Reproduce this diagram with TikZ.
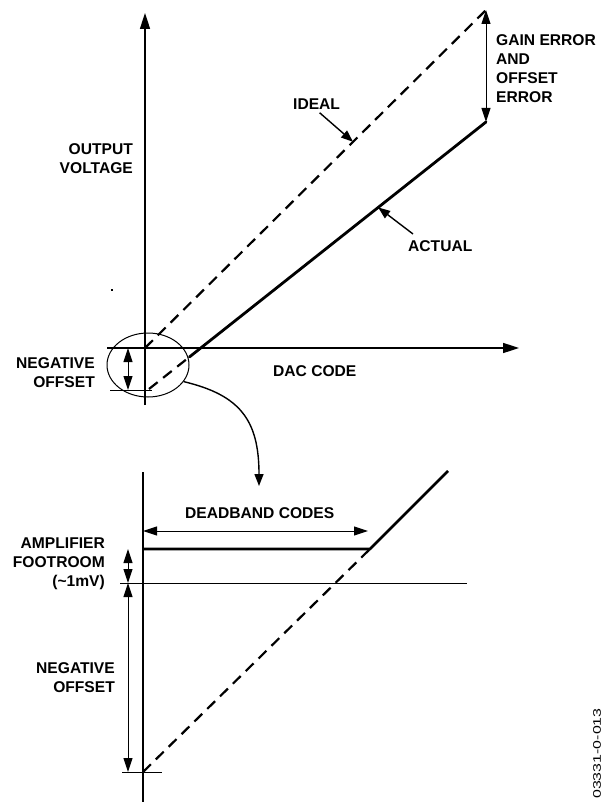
\documentclass[tikz,border=0pt]{standalone}
\usepackage{fontspec}
\setmainfont{Liberation Sans}
\usetikzlibrary{arrows.meta,shapes.geometric,calc}

\tikzset{
	etikett/.style={font=\fontsize{15.6}{19}\selectfont\bfseries, inner sep=0pt},
	akse/.style={line width=1.6pt, -{Triangle[length=16pt,width=10pt]}},
	dobbel/.style={line width=1pt, {Triangle[length=14pt,width=9pt]}-{Triangle[length=14pt,width=9pt]}},
	ideell/.style={line width=2.2pt, dash pattern=on 11pt off 7pt},
	faktisk/.style={line width=2.8pt},
	tynn/.style={line width=1pt},
	peker/.style={line width=1.4pt, -{Triangle[length=12pt,width=9pt]}},
}

\begin{document}
\begin{tikzpicture}[x=1pt, y=-1pt]
		\useasboundingbox (0,0) rectangle (607,802);

		% Koordinatsystem (oeverst)
		\coordinate (O) at (145,348);
		\coordinate (ytopp) at (145,13);
		\coordinate (ybunn) at (145,405);
		\coordinate (xvenstre) at (107,348);
		\coordinate (xhoyre) at (519,348);
		\draw[akse] (ybunn) -- (ytopp);
		\draw[akse] (xvenstre) -- (xhoyre);

		% Ideell og faktisk karakteristikk
		\coordinate (I1) at (486,10);
		\coordinate (A0) at (149,389);
		\coordinate (A1) at (486,122);
		\coordinate (Akryss) at ($(A0)!0.12!(A1)$);
		\draw[ideell] (O) -- (I1);
		\draw[ideell] (A0) -- (Akryss);
		\draw[faktisk, line cap=round] (Akryss) -- (A1);

		% Forsterkningsfeil
		\draw[dobbel] (I1) -- (A1);
		\node[etikett, anchor=north west, align=left] (gainfeil) at (496,34) {GAIN ERROR\\AND\\OFFSET\\ERROR};

		% Merkelapper med piler
		\node[etikett, anchor=north west] (idealtxt) at (293,99) {IDEAL};
		\coordinate (Ipkt) at ($(O)!0.61!(I1)$);
		\draw[peker, shorten <=4pt] (idealtxt.south) -- (Ipkt);
		\node[etikett, anchor=north west] (actualtxt) at (408,240) {ACTUAL};
		\coordinate (Apkt) at ($(A0)!0.68!(A1)$);
		\draw[peker] ([xshift=5pt, yshift=6pt]actualtxt.north west) -- (Apkt);
		\node[etikett, anchor=north east, align=right] (utgang) at (133,143) {OUTPUT\\VOLTAGE};
		\node[etikett, anchor=north west] (dac) at (273,365) {DAC CODE};
		\fill (111,289) rectangle (113,291);

		% Negativ offset med lupe
		\node[draw, tynn, ellipse, minimum width=82pt, minimum height=64pt, inner sep=0pt] (lupe) at (148,365) {};
		\coordinate (nv) at (110,390);
		\coordinate (nh) at (152,390);
		\coordinate (n1) at (128,348);
		\coordinate (n2) at (128,390);
		\draw[tynn] (nv) -- (nh);
		\draw[dobbel] (n1) -- (n2);
		\node[etikett, anchor=north east, align=right] (negoff) at (95,357) {NEGATIVE\\OFFSET};

		% Buet pil ned til forstoerrelsen
		\coordinate (pilende) at (259,486);
		\draw[peker] (lupe.-25) .. controls (240,395) and (259,420) .. (pilende);

		% Nedre diagram
		\coordinate (Ntopp) at (143,472);
		\coordinate (Nbunn) at (143,802);
		\draw[line width=1.6pt] (Ntopp) -- (Nbunn);
		\coordinate (hv) at (120,583);
		\coordinate (hh) at (467,583);
		\draw[tynn] (hv) -- (hh);
		\coordinate (B0) at (143,772);
		\coordinate (K) at (370,549);
		\coordinate (B1) at (448,471);
		\coordinate (Kstart) at (143,549);
		\draw[ideell] (B0) -- (K);
		\draw[faktisk] (Kstart) -- (K) -- (B1);
		\coordinate (tv) at (122,772);
		\coordinate (th) at (162,772);
		\draw[tynn] (tv) -- (th);

		% Dodbaand og fotrom
		\coordinate (d1) at (143,531);
		\coordinate (d2) at (368,531);
		\draw[dobbel] (d1) -- (d2);
		\node[etikett, anchor=north west] (deadband) at (185,507) {DEADBAND CODES};
		\coordinate (f1) at (128,549);
		\coordinate (f2) at (128,583);
		\coordinate (f3) at (128,772);
		\draw[dobbel] (f1) -- (f2);
		\draw[dobbel] (f2) -- (f3);
		\node[etikett, anchor=north east, align=right] (fotrom) at (105,538) {AMPLIFIER\\FOOTROOM\\(\char`\~1mV)};
		\node[etikett, anchor=north east, align=right] (negoff2) at (115,662) {NEGATIVE\\OFFSET};

		% Figurnummer
		\node[font=\fontsize{11}{13}\selectfont, rotate=90, anchor=west, inner sep=0pt] (fignr) at (597,799) {\scalebox{1.45}[1]{03331-0-013}};
\end{tikzpicture}
\end{document}
